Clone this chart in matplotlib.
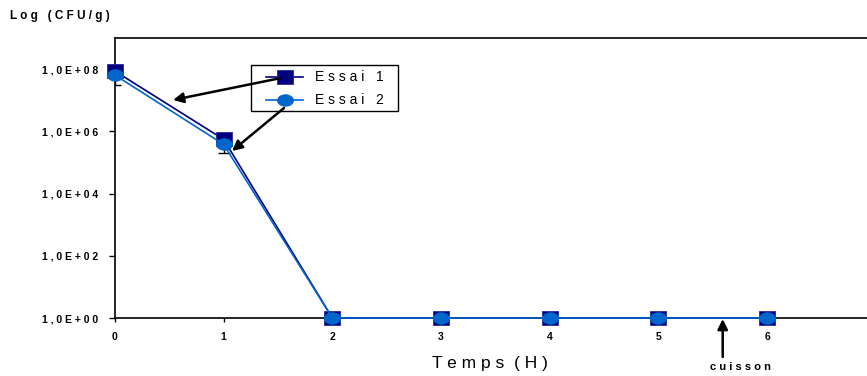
import matplotlib
matplotlib.use("Agg")
import matplotlib.pyplot as plt
import numpy as np
from matplotlib.path import Path
from matplotlib.lines import Line2D
from matplotlib.patches import Rectangle, FancyArrowPatch

plt.rcParams['font.family'] = ['Liberation Sans', 'DejaVu Sans']

# ---- data ----
temps = [0, 1, 2, 3, 4, 5, 6]
essai1 = [8.6e7, 5.5e5, 1, 1, 1, 1, 1]
essai2 = [6.4e7, 3.8e5, 1, 1, 1, 1, 1]
essai2_low = [3.1e7, 2.0e5, 1, 1, 1, 1, 1]
xtick_labels = ["0", "1", "2", "3", "4", "5", "6"]
ytick_values = [1e0, 1e2, 1e4, 1e6, 1e8]
ytick_labels = ["1,0E+00", "1,0E+02", "1,0E+04", "1,0E+06", "1,0E+08"]
series_names = ["Essai 1", "Essai 2"]

NAVY = "#000080"
BLUE = "#0066CC"

def spaced(s):
    return " ".join(list(s))

# custom markers (wider than tall)
t = np.linspace(0, 2 * np.pi, 60)
ellipse = Path(np.column_stack([np.cos(t), 0.72 * np.sin(t)]), closed=False)
rect = Path([(-1, -0.85), (1, -0.85), (1, 0.85), (-1, 0.85), (-1, -0.85)],
            [Path.MOVETO, Path.LINETO, Path.LINETO, Path.LINETO, Path.CLOSEPOLY])

fig = plt.figure(figsize=(8.67, 3.76), dpi=100)
ax = fig.add_axes([115 / 867, 58 / 376, (7 * 108.67) / 867, 280 / 376])

ax.set_yscale('log')
ax.set_xlim(0, 7)
ax.set_ylim(1, 1e9)

# error bars (lower only)
e2 = np.array(essai2)
lo = e2 - np.array(essai2_low)
ax.errorbar(temps[:2], e2[:2], yerr=[lo[:2], np.zeros(2)], fmt='none',
            ecolor='black', elinewidth=1, capsize=4, capthick=1, zorder=2)

sq_style = dict(marker=rect, markersize=12, markerfacecolor=NAVY,
                markeredgecolor="#2a2a9a", markeredgewidth=0.6)
ci_style = dict(marker=ellipse, markersize=11.5, markerfacecolor=BLUE,
                markeredgecolor=BLUE, markeredgewidth=0.6)

ax.plot(temps, essai1, color=NAVY, lw=1.2, clip_on=False, zorder=3, **sq_style)
ax.plot(temps, essai2, color=BLUE, lw=1.2, clip_on=False, zorder=4, **ci_style)

ax.set_xticks(temps)
ax.set_xticklabels(xtick_labels, fontsize=7.5, fontweight='bold')
ax.set_yticks(ytick_values)
ax.set_yticklabels([spaced(s) for s in ytick_labels], fontsize=7.5, fontweight='bold')
ax.yaxis.set_minor_locator(matplotlib.ticker.NullLocator())
ax.tick_params(axis='y', direction='out', length=4, width=1, pad=8)
ax.tick_params(axis='x', direction='out', length=3, width=1, pad=7)
for s in ['left', 'bottom', 'top']:
    ax.spines[s].set_linewidth(1.2)
    ax.spines[s].set_color('black')
ax.spines['right'].set_visible(False)
ax.spines['bottom'].set_zorder(1)

ax.set_xlabel("T e m p s  ( H )", fontsize=12.5, labelpad=10)
ax.xaxis.set_label_coords((490 - 115) / (7 * 108.67), -0.135)
fig.text(10 / 867, 1 - 16 / 376, spaced("Log (CFU/g)"), fontsize=8.5,
         fontweight='bold', ha='left', va='center')

def fp(x, y):
    return (x / 867, 1 - y / 376)

# legend drawn as a boxed key
x0, y0 = fp(251, 111)
fig.add_artist(Rectangle((x0, y0), 147 / 867, 46 / 376, transform=fig.transFigure,
                         facecolor='white', edgecolor='black', lw=1.0, zorder=5))
rows = [(77, NAVY, sq_style), (100, BLUE, ci_style)]
for (yy, col, style), name in zip(rows, series_names):
    xa, ya = fp(266, yy)
    xb, _ = fp(303, yy)
    xm, _ = fp(285, yy)
    fig.add_artist(Line2D([xa, xb], [ya, ya], color=col, lw=1.2,
                          transform=fig.transFigure, zorder=6))
    fig.add_artist(Line2D([xm], [ya], color=col, lw=0,
                          transform=fig.transFigure, zorder=7, **style))
    xt, yt = fp(315, yy)
    fig.text(xt, yt, spaced(name), fontsize=10, ha='left', va='center', zorder=8)

arrowprops = dict(arrowstyle='-|>', color='black', lw=1.8,
                  mutation_scale=15, shrinkA=0, shrinkB=0, zorder=9)
fig.add_artist(FancyArrowPatch(fp(281, 78), fp(173, 100),
               transform=fig.transFigure, **arrowprops))
fig.add_artist(FancyArrowPatch(fp(284, 108), fp(232, 151),
               transform=fig.transFigure, **arrowprops))
fig.add_artist(FancyArrowPatch(fp(722.7, 357), fp(722.7, 319),
               transform=fig.transFigure, **arrowprops))
fig.text(740 / 867, 1 - 367 / 376, spaced("cuisson"), fontsize=8,
         fontweight='bold', ha='center', va='center')

fig.savefig("out.png", dpi=100)
